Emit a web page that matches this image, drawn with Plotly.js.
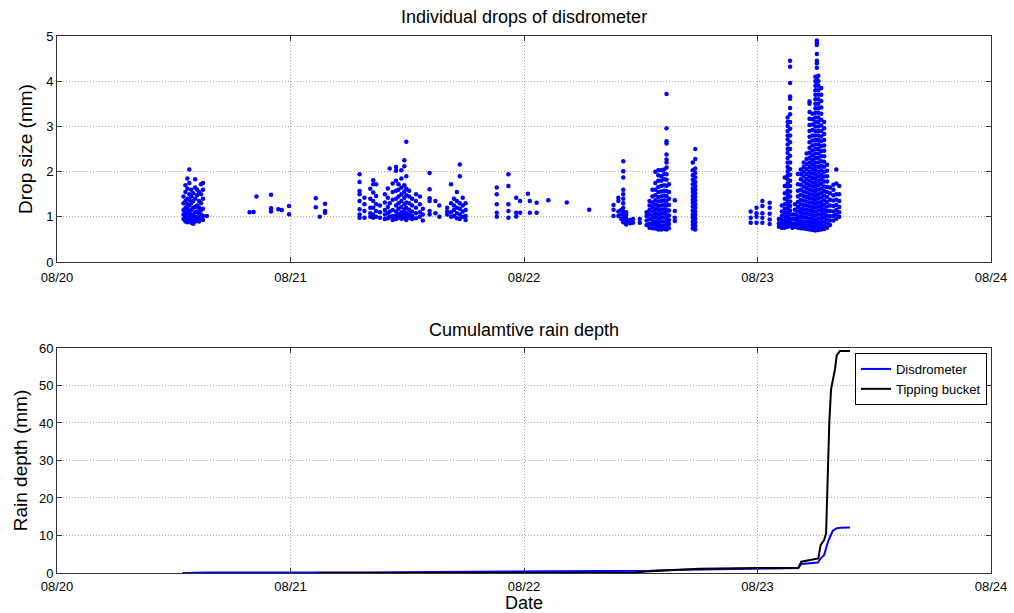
<!DOCTYPE html>
<html><head><meta charset="utf-8">
<script src="https://cdn.plot.ly/plotly-3.0.1.min.js"></script>
<style>html,body{margin:0;padding:0;background:#fff}</style>
</head><body><div id="chart" style="width:1014px;height:613px"></div>
<script>
// x positions are hours after 2013-08-20 00:00
const startDay = Date.UTC(2013, 7, 20);
const xTickVals = ['2013-08-20', '2013-08-21', '2013-08-22', '2013-08-23', '2013-08-24'];
const xTickLabels = ['08/20', '08/21', '08/22', '08/23', '08/24'];

// Individual drops: [hour, [drop diameters in mm]]
const dropsAug20 = [
  [13.0, [0.95, 1.05, 1.15, 1.3, 1.45]],
  [13.2, [0.9, 1.0, 1.1, 1.2, 1.35, 1.55, 1.7]],
  [13.4, [0.88, 0.97, 1.08, 1.18, 1.28, 1.4, 1.62, 1.85]],
  [13.6, [0.92, 1.02, 1.12, 1.25, 1.38, 1.5, 1.75, 2.05]],
  [13.8, [0.87, 0.95, 1.05, 1.15, 1.3, 1.45, 1.6]],
  [14.0, [0.85, 0.93, 1.03, 1.2, 1.35, 1.52]],
  [14.2, [0.9, 1.0, 1.1, 1.22, 1.4, 1.65, 1.83]],
  [14.4, [0.92, 1.0, 1.12, 1.25, 1.48, 1.6]],
  [14.6, [0.9, 0.98, 1.08, 1.2, 1.35, 1.55]],
  [14.8, [0.95, 1.05, 1.15, 1.3, 1.5, 1.72]],
  [15.0, [0.93, 1.02, 1.18, 1.4, 1.6, 1.75]],
  [15.4, [1.02]],
  [19.8, [1.1]], [20.2, [1.11]], [20.5, [1.45]],
  [22.0, [1.12, 1.19, 1.49]], [22.75, [1.17]], [23.1, [1.15]],
  [23.85, [1.06, 1.24]], [26.6, [1.21, 1.41]], [27.0, [1.0]],
  [27.55, [1.09, 1.13, 1.29]]
];
const dropsAug21 = [
  [31.1, [0.98, 1.05, 1.17, 1.35, 1.5, 1.57, 1.77, 1.94]],
  [31.6, [0.98, 1.13, 1.28, 1.42]],
  [32.2, [1.0, 1.08, 1.2, 1.4, 1.62]],
  [32.5, [0.98, 1.05, 1.2, 1.35, 1.54, 1.72, 1.81]],
  [32.8, [1.0, 1.13, 1.28, 1.46, 1.72]],
  [33.2, [0.98, 1.1, 1.25]],
  [33.7, [0.95, 1.05, 1.15, 1.32, 1.5]],
  [34.0, [0.97, 1.08, 1.22, 1.42, 1.63]],
  [34.2, [1.0, 1.12, 1.3, 2.07]],
  [34.5, [0.93, 1.02, 1.15, 1.38, 1.55, 1.74]],
  [34.85, [0.95, 1.03, 1.12, 1.25, 1.4, 1.58, 1.8, 2.02, 2.1]],
  [35.1, [0.98, 1.06, 1.18, 1.3, 1.45, 1.6, 1.72]],
  [35.4, [0.96, 1.02, 1.1, 1.22, 1.35, 1.5, 1.65, 1.85, 2.03]],
  [35.7, [0.97, 1.05, 1.15, 1.28, 1.42, 1.56, 1.7, 2.12, 2.25]],
  [35.9, [0.93, 1.0, 1.08, 1.2, 1.32, 1.48, 1.62, 1.9, 2.66]],
  [36.2, [0.98, 1.06, 1.16, 1.3, 1.45, 1.58]],
  [36.5, [0.95, 1.02, 1.12, 1.25, 1.4]],
  [36.9, [0.97, 1.08, 1.2, 1.35, 1.5]],
  [37.3, [1.0, 1.1, 1.28, 1.45]],
  [37.6, [0.92, 1.05, 1.18]],
  [38.3, [1.05, 1.13, 1.35, 1.41, 1.61, 1.97]],
  [38.9, [1.08, 1.35]],
  [39.3, [1.0, 1.25]],
  [40.1, [1.05, 1.12, 1.2]],
  [40.5, [1.0, 1.1, 1.3, 1.72]],
  [40.8, [1.02, 1.15, 1.25, 1.4]],
  [41.1, [0.97, 1.08, 1.2, 1.35, 1.55]],
  [41.4, [0.95, 1.05, 1.18, 1.3, 1.9, 2.16]],
  [41.7, [1.0, 1.12, 1.25, 1.42]],
  [42.0, [0.93, 1.02, 1.15, 1.3]],
  [45.2, [1.0, 1.09, 1.28, 1.5, 1.65]],
  [46.4, [0.98, 1.13, 1.28, 1.68, 1.94]],
  [47.2, [1.01, 1.09, 1.42]],
  [47.6, [1.09, 1.35]],
  [48.4, [1.51]], [48.6, [1.09, 1.35]], [49.3, [1.09, 1.31]],
  [50.5, [1.37]], [52.4, [1.32]], [54.7, [1.16]]
];
const dropsAug22 = [
  [57.2, [1.02, 1.16, 1.26]],
  [57.7, [1.02, 1.12, 1.35, 1.42]],
  [58.0, [0.95, 1.05, 1.16]],
  [58.2, [0.88, 0.96, 1.04, 1.12, 1.2, 1.3, 1.4, 1.5, 1.6, 1.87, 2.01, 2.23]],
  [58.5, [0.83, 0.9, 0.97, 1.04, 1.1]],
  [58.9, [0.86, 0.93]], [59.2, [0.87, 0.95]], [59.9, [0.87, 0.95]],
  [60.6, [0.82, 0.92, 1.02, 1.1]],
  [60.9, [0.76, 0.85, 0.95, 1.05, 1.15, 1.25, 1.35]],
  [61.2, [0.75, 0.84, 0.93, 1.02, 1.12, 1.22, 1.32, 1.45, 1.6]],
  [61.5, [0.74, 0.82, 0.9, 0.99, 1.08, 1.17, 1.27, 1.37, 1.48, 1.6, 1.75, 2.0]],
  [61.8, [0.72, 0.8, 0.88, 0.97, 1.06, 1.15, 1.24, 1.34, 1.44, 1.55, 1.66, 1.8, 1.92, 2.03]],
  [62.1, [0.72, 0.8, 0.89, 0.98, 1.07, 1.16, 1.25, 1.35, 1.45, 1.56, 1.68, 1.8, 1.9, 2.03]],
  [62.4, [0.73, 0.81, 0.9, 0.99, 1.08, 1.17, 1.27, 1.37, 1.47, 1.58, 1.7, 1.83, 1.95, 2.05]],
  [62.65, [0.72, 0.8, 0.88, 0.97, 1.06, 1.15, 1.25, 1.35, 1.46, 1.57, 1.69, 1.82, 1.94, 2.09, 2.2, 2.27, 2.38, 2.62, 2.67, 2.96, 3.72]],
  [62.9, [0.75, 0.84, 0.93, 1.03, 1.14, 1.26, 1.4, 1.55, 1.72]],
  [63.5, [0.91, 0.98, 1.13, 1.37]],
  [65.35, [0.74, 0.82, 0.9, 0.98, 1.06, 1.14, 1.23, 1.31, 1.38, 1.46, 1.55, 1.63, 1.72, 1.82, 1.92, 2.03, 2.2]],
  [65.6, [0.72, 0.8, 0.88, 0.96, 1.04, 1.12, 1.2, 1.28, 1.36, 1.44, 1.52, 1.6, 1.68, 1.77, 1.87, 1.97, 2.07, 2.28, 2.5]]
];
const dropsAug23 = [
  [71.3, [0.87, 0.98, 1.12]],
  [71.9, [0.87, 1.0, 1.08, 1.2]],
  [72.5, [0.87, 0.98, 1.08, 1.24, 1.35]],
  [73.25, [0.84, 0.94, 1.07, 1.2, 1.31]],
  [74.2, [0.78, 0.86, 0.95]],
  [74.5, [0.76, 0.84, 0.93, 1.02, 1.12, 1.25]],
  [74.8, [0.76, 0.84, 0.92, 1.0, 1.09, 1.18, 1.28, 1.4, 1.52, 1.68, 1.87]],
  [75.1, [0.78, 0.86, 0.94, 1.02, 1.1, 1.19, 1.27, 1.34, 1.43, 1.5, 1.58, 1.67, 1.74, 1.83, 1.92, 2.01, 2.1, 2.2, 2.3, 2.41, 2.5, 2.6, 2.71, 2.8, 2.9, 3.01, 3.1, 3.2]],
  [75.35, [0.8, 0.88, 0.96, 1.05, 1.14, 1.24, 1.34, 1.45, 1.56, 1.68, 1.8, 1.93, 2.06, 2.2, 2.35, 2.5, 2.65, 2.8, 2.95, 3.1, 3.27, 3.41, 3.61, 3.66, 3.96, 4.32, 4.45]],
  [75.6, [0.76, 0.85, 0.95, 1.05]],
  [75.85, [0.78, 0.86, 0.95, 1.05, 1.16, 1.28]],
  [76.15, [0.76, 0.84, 0.93, 1.02, 1.12, 1.22, 1.33, 1.45, 1.58, 1.72, 1.95]],
  [76.45, [0.75, 0.83, 0.91, 1.0, 1.09, 1.18, 1.28, 1.38, 1.49, 1.6, 1.71, 1.83, 1.94, 2.05]],
  [76.75, [0.74, 0.82, 0.9, 0.99, 1.08, 1.17, 1.26, 1.36, 1.46, 1.56, 1.67, 1.78, 1.89, 2.0, 2.1, 2.2]],
  [77.05, [0.73, 0.81, 0.89, 0.98, 1.07, 1.16, 1.25, 1.34, 1.44, 1.54, 1.64, 1.74, 1.84, 1.95, 2.06, 2.17, 2.28, 2.4]],
  [77.35, [0.72, 0.8, 0.88, 0.96, 1.05, 1.14, 1.23, 1.32, 1.41, 1.5, 1.6, 1.7, 1.8, 1.9, 2.0, 2.1, 2.2, 2.31, 2.42, 2.53, 2.65, 2.77, 2.9, 3.03, 3.17, 3.32, 3.5, 3.55]],
  [77.65, [0.71, 0.79, 0.87, 0.95, 1.04, 1.13, 1.22, 1.31, 1.4, 1.49, 1.58, 1.67, 1.76, 1.86, 1.96, 2.06, 2.16, 2.26, 2.36, 2.47, 2.58, 2.69, 2.8, 2.92, 3.04, 3.16, 3.28]],
  [77.95, [0.7, 0.78, 0.86, 0.94, 1.03, 1.12, 1.21, 1.3, 1.39, 1.48, 1.57, 1.66, 1.75, 1.84, 1.93, 2.02, 2.11, 2.2, 2.3, 2.4, 2.5, 2.6, 2.7, 2.8, 2.9, 3.0, 3.1, 3.2, 3.3, 3.4, 3.5, 3.6, 3.7, 3.8, 3.9, 4.0, 4.1]],
  [78.1, [3.95, 4.05, 4.3, 4.4, 4.45, 4.6, 4.8, 4.85, 4.9]],
  [78.25, [0.71, 0.79, 0.87, 0.96, 1.05, 1.14, 1.23, 1.32, 1.41, 1.5, 1.6, 1.7, 1.8, 1.9, 2.0, 2.1, 2.2, 2.3, 2.4, 2.5, 2.6, 2.7, 2.8, 2.9, 3.0, 3.1, 3.2, 3.3, 3.4, 3.5, 3.6, 3.7, 3.8, 3.9, 4.0, 4.12]],
  [78.55, [0.72, 0.8, 0.88, 0.97, 1.06, 1.15, 1.24, 1.33, 1.43, 1.53, 1.63, 1.73, 1.83, 1.93, 2.03, 2.13, 2.23, 2.34, 2.45, 2.56, 2.67, 2.78, 2.9, 3.02, 3.15, 3.28, 3.42, 3.56, 3.7, 3.85]],
  [78.85, [0.73, 0.81, 0.9, 0.99, 1.08, 1.17, 1.27, 1.37, 1.47, 1.57, 1.67, 1.78, 1.89, 2.0, 2.11, 2.22, 2.34, 2.46, 2.58, 2.7, 2.83, 2.96, 3.1]],
  [79.15, [0.76, 0.85, 0.94, 1.03, 1.13, 1.23, 1.33, 1.44, 1.55, 1.66, 1.78, 1.9, 2.02, 2.15]],
  [79.45, [0.82, 0.92, 1.02, 1.13, 1.25, 1.38, 1.52, 1.65]],
  [79.8, [0.92, 1.02, 1.12, 1.24, 1.36, 1.48, 1.6, 1.71]],
  [80.1, [0.96, 1.05, 1.15, 1.26, 1.38, 1.5, 1.74, 2.05]],
  [80.4, [1.0, 1.1, 1.22, 1.35, 1.5, 1.68]]
];

// Cumulative rain depth (mm)
const disdroHours = [12.9, 15.5, 31, 36, 42, 50.5, 57, 59.5, 61, 63, 65.2, 66, 71, 73.5, 76.2, 76.5, 78.2, 78.5, 78.85, 79.05, 79.25, 79.55, 79.75, 80.1, 80.5, 81.5];
const disdroDepth = [0.02, 0.12, 0.15, 0.22, 0.3, 0.35, 0.38, 0.5, 0.6, 0.8, 0.92, 1.0, 1.15, 1.22, 1.3, 2.4, 2.8, 3.9, 4.8, 6.6, 8.4, 10.2, 11.3, 11.9, 12.05, 12.15];
const bucketHours = [26.8, 59.2, 60.5, 62, 63.5, 65, 66, 70, 73, 76.2, 76.5, 77.7, 78.25, 78.5, 78.85, 79.05, 79.22, 79.38, 79.56, 79.73, 79.97, 80.14, 80.48, 81.5];
const bucketDepth = [0, 0.05, 0.4, 0.6, 0.9, 1.05, 1.15, 1.25, 1.35, 1.4, 3.0, 3.5, 3.9, 7.5, 8.8, 10.6, 26.7, 40.1, 49, 51.3, 54.4, 58, 59.2, 59.2];

function hourToDate(h) {
  return new Date(startDay + h * 3600000).toISOString().replace('T', ' ').slice(0, 19);
}
const dropX = [], dropY = [];
[dropsAug20, dropsAug21, dropsAug22, dropsAug23].forEach(ev => ev.forEach(([h, ds]) => {
  ds.forEach(d => { dropX.push(hourToDate(h)); dropY.push(d); });
}));

const font = 'Liberation Sans, Arial, Helvetica, sans-serif';
const axisCommon = {
  showline: true, linecolor: '#333', linewidth: 1, mirror: 'ticks',
  ticks: 'inside', ticklen: 5, tickcolor: '#333',
  showgrid: true, gridcolor: '#a8a8a8', griddash: '1px,2px', gridwidth: 1,
  zeroline: false, tickfont: {family: font, size: 13, color: '#000'}
};
const xCommon = Object.assign({}, axisCommon, {
  type: 'date', range: [xTickVals[0], xTickVals[4]],
  tickvals: xTickVals, ticktext: xTickLabels
});

const traces = [
  {x: dropX, y: dropY, type: 'scatter', mode: 'markers', xaxis: 'x', yaxis: 'y',
   marker: {color: '#0000ff', size: 4.5, line: {width: 0}}, showlegend: false},
  {x: disdroHours.map(hourToDate), y: disdroDepth, type: 'scatter', mode: 'lines',
   name: 'Disdrometer', xaxis: 'x2', yaxis: 'y2', line: {color: '#0000ff', width: 2}},
  {x: bucketHours.map(hourToDate), y: bucketDepth, type: 'scatter', mode: 'lines',
   name: 'Tipping bucket', xaxis: 'x2', yaxis: 'y2', line: {color: '#000000', width: 2}}
];

const layout = {
  width: 1014, height: 613,
  margin: {l: 57, r: 23, t: 36, b: 40},
  paper_bgcolor: '#fff', plot_bgcolor: '#fff',
  font: {family: font, color: '#000'},
  xaxis: Object.assign({}, xCommon, {domain: [0, 1], anchor: 'y', ticklabelstandoff: 3}),
  yaxis: Object.assign({}, axisCommon, {domain: [0.579, 1], anchor: 'x', range: [0, 5], dtick: 1,
    title: {text: 'Drop size (mm)', font: {family: font, size: 19}, standoff: 8}}),
  xaxis2: Object.assign({}, xCommon, {domain: [0, 1], anchor: 'y2', ticklabelstandoff: 1,
    title: {text: 'Date', font: {family: font, size: 18}, standoff: 2}}),
  yaxis2: Object.assign({}, axisCommon, {domain: [0, 0.419], anchor: 'x2', range: [0, 60], dtick: 10,
    title: {text: 'Rain depth (mm)', font: {family: font, size: 19}, standoff: 6}}),
  legend: {x: 0.9957, xanchor: 'right', y: 0.4097, yanchor: 'top', bgcolor: '#fff',
    bordercolor: '#000', borderwidth: 1, font: {family: font, size: 13}},
  annotations: [
    {text: 'Individual drops of disdrometer', xref: 'paper', yref: 'paper', x: 0.5, y: 1.035,
     xanchor: 'center', yanchor: 'middle', showarrow: false, font: {family: font, size: 18}},
    {text: 'Cumulamtive rain depth', xref: 'paper', yref: 'paper', x: 0.5, y: 0.4525,
     xanchor: 'center', yanchor: 'middle', showarrow: false, font: {family: font, size: 18}}
  ]
};
Plotly.newPlot('chart', traces, layout, {displayModeBar: false, staticPlot: true});
</script></body></html>
